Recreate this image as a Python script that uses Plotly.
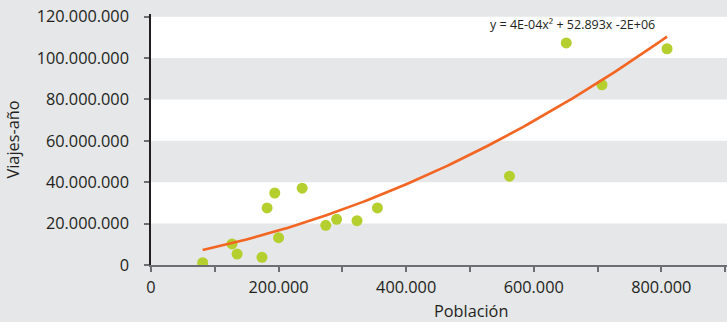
import numpy as np
import plotly.graph_objects as go

# Data
poblacion = [81000, 127000, 135000, 174000, 182000, 194000, 200000, 237000,
             274000, 291000, 323000, 355000, 562000, 651000, 707000, 809000]
viajes = [1100000, 10200000, 5300000, 3700000, 27600000, 34800000, 13200000, 37100000,
          19200000, 22100000, 21400000, 27600000, 42900000, 107300000, 87100000, 104500000]

x_tickvals = [0, 100000, 200000, 300000, 400000, 500000, 600000, 700000, 800000, 900000]
x_ticktext = ["0", "", "200.000", "", "400.000", "", "600.000", "", "800.000", ""]
y_tickvals = [0, 20000000, 40000000, 60000000, 80000000, 100000000, 120000000]
y_ticktext = ["0", "20.000.000", "40.000.000", "60.000.000", "80.000.000",
              "100.000.000", "120.000.000"]
white_bands = [(20000000, 40000000), (60000000, 80000000), (100000000, 120000000)]
equation = "y = 4E-04x² + 52.893x -2E+06"
x_title = "Población"
y_title = "Viajes-año"

# quadratic trend line fitted to the points
coef = np.polyfit(poblacion, viajes, 2)
xs = np.linspace(min(poblacion), max(poblacion), 200)
ys = np.polyval(coef, xs)

BG = "#e6e7e8"
fig = go.Figure()
fig.add_trace(go.Scatter(x=poblacion, y=viajes, mode="markers",
                         marker=dict(color="#b5cf2f", size=11, line=dict(width=0)),
                         showlegend=False))
fig.add_trace(go.Scatter(x=xs, y=ys, mode="lines",
                         line=dict(color="#f26522", width=2.6),
                         showlegend=False))

shapes = []
for y0, y1 in white_bands:
    shapes.append(dict(type="rect", xref="paper", yref="y", x0=0, x1=1, y0=y0, y1=y1,
                       fillcolor="white", line=dict(width=0), layer="below"))

fig.update_layout(
    width=727, height=322,
    margin=dict(l=151, r=0, t=14, b=57),
    paper_bgcolor=BG, plot_bgcolor=BG,
    font=dict(family="Open Sans", size=16.3, color="#231f20"),
    shapes=shapes,
    annotations=[
        dict(text=equation, x=(572 - 151) / 576, y=(265 - 25) / 251,
             xref="paper", yref="paper", xanchor="center", yanchor="middle",
             showarrow=False, font=dict(size=12.5, color="#231f20")),
        dict(text=x_title, x=(471 - 151) / 576, y=(265 - 311) / 251,
             xref="paper", yref="paper", xanchor="center", yanchor="middle",
             showarrow=False, borderpad=0, font=dict(size=16.3, color="#231f20")),
    ],
    xaxis=dict(range=[0, 903000], tickvals=x_tickvals, ticktext=x_ticktext,
               showgrid=False, zeroline=False, showline=True, linecolor="#6d6e71",
               linewidth=1.5, ticks="outside", ticklen=5, tickcolor="#6d6e71",
               tickwidth=1.5, automargin=False, ticklabelstandoff=2),
    yaxis=dict(range=[0, 121300000], tickvals=y_tickvals, ticktext=y_ticktext,
               showgrid=False, zeroline=False, showline=True, linecolor="#231f20",
               linewidth=1.5, ticks="outside", ticklen=5, tickcolor="#6d6e71",
               tickwidth=1.5, ticklabelstandoff=12, automargin=False,
               title=dict(text=y_title, standoff=13, font=dict(size=16.3))),
)
fig.write_html("out.html", config={"displayModeBar": False},
               post_script="document.body.style.margin='0';document.body.style.background='#e6e7e8';")
